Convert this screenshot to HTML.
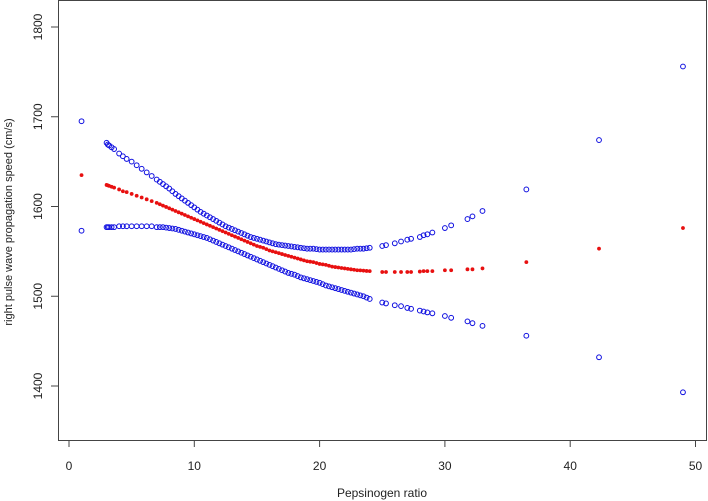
<!DOCTYPE html>
<html><head><meta charset="utf-8"><style>
html,body{margin:0;padding:0;background:#fff;}
svg{display:block;font-family:"Liberation Sans",Arial,sans-serif;}
</style></head><body>
<svg id="chart" width="708" height="501">
<g id="axes"></g><g id="marks"></g>
</svg>
<script>
const xs=[1,3,3.1,3.2,3.4,3.6,4,4.3,4.6,5,5.4,5.8,6.2,6.6,7,7.5,8,8.5,9,9.5,10,10.5,11,11.5,12,12.5,13,13.5,14,14.5,15,15.5,16,16.5,17,17.5,18,18.5,19,19.5,20,20.5,21,21.5,22,22.5,23,23.5,24,25,25.3,26,26.5,27,27.3,28,28.3,28.6,29,30,30.5,31.8,32.2,33,36.5,42.3,49,
7.25,7.75,8.25,8.75,9.25,9.75,10.25,10.75,11.25,11.75,12.25,12.75,13.25,13.75,14.25,14.75,15.25,15.75,16.25,16.75,17.25,17.75,18.25,18.75,19.25,19.75,20.25,20.75,21.25,21.75,22.25,22.75,23.25,23.75];
const upper=[1695,1671,1669,1668,1666,1664,1659,1656,1653,1650,1646,1642,1638,1634,1630,1625,1620,1614,1609,1604,1599,1594,1590,1586,1582,1578,1575,1572,1569,1566,1564,1562,1560,1558,1557,1556,1555,1554,1553,1553,1552,1552,1552,1552,1552,1552,1553,1553,1554,1556,1557,1559,1561,1563,1564,1566,1568,1569,1571,1576,1579,1586,1589,1595,1619,1674,1756,
1627.5,1622.5,1617,1611.5,1606.5,1601.5,1596.5,1592,1588,1584,1580,1576.5,1573.5,1570.5,1567.5,1565,1563,1561,1559,1557.5,1556.5,1555.5,1554.5,1553.5,1553,1552.5,1552,1552,1552,1552,1552,1552.5,1553,1553.5];
const fit=[1635,1624,1623.5,1623,1622,1621,1619,1617,1616,1614,1612,1610,1608,1606,1604,1601,1598,1595,1592,1589,1586,1583,1580,1577,1574,1571,1568,1565,1562,1559,1556,1554,1551,1549,1547,1545,1543,1541,1539,1538,1536,1535,1533,1532,1531,1530,1529,1528.5,1528,1527,1527,1527,1527,1527,1527,1527.5,1528,1528,1528,1529,1529,1530,1530,1531,1538,1553,1576,
1602.5,1599.5,1596.5,1593.5,1590.5,1587.5,1584.5,1581.5,1578.5,1575.5,1572.5,1569.5,1566.5,1563.5,1560.5,1557.5,1555,1552.5,1550,1548,1546,1544,1542,1540,1538.5,1537,1535.5,1534,1532.5,1531.5,1530.5,1529.5,1528.8,1528.2];
const lower=[1573,1577,1577,1577,1577,1577,1578,1578,1578,1578,1578,1578,1578,1578,1577,1577,1576,1575,1573,1571,1569,1567,1565,1562,1559,1556,1553,1550,1547,1544,1541,1538,1535,1532,1529,1526,1524,1521,1519,1517,1515,1512,1510,1508,1506,1504,1502,1500,1497,1493,1492,1490,1489,1487,1486,1484,1483,1482,1481,1478,1476,1472,1470,1467,1456,1432,1393,
1577,1576.5,1575.5,1574,1572,1570,1568,1566,1563.5,1560.5,1557.5,1554.5,1551.5,1548.5,1545.5,1542.5,1539.5,1536.5,1533.5,1530.5,1527.5,1525,1522.5,1520,1518,1516,1513.5,1511,1509,1507,1505,1503,1501,1498.5];
const xTicks=[0,10,20,30,40,50];
const yTicks=[1400,1500,1600,1700,1800];
const NS='http://www.w3.org/2000/svg';
function X(v){return 69+v*12.53;}
function Y(v){return 27+(1800-v)*0.8975;}
function mk(tag,attrs,parent){const e=document.createElementNS(NS,tag);for(const k in attrs)e.setAttribute(k,attrs[k]);parent.appendChild(e);return e;}
const axes=document.getElementById('axes'),marks=document.getElementById('marks');
const box=mk('rect',{x:58.5,y:0.5,width:648,height:440,fill:'none',stroke:'#444','stroke-width':1},axes);


xTicks.forEach(t=>{
  const l=mk('line',{x1:X(t),x2:X(t),y1:440,y2:447,stroke:'#444'},axes);
  
  
  const tx=mk('text',{x:X(t),y:470,'font-size':12,'text-anchor':'middle',fill:'#222'},axes);
  tx.textContent=t;
  
  
});
yTicks.forEach(t=>{
  const l=mk('line',{x1:51,x2:58.5,y1:Y(t),y2:Y(t),stroke:'#444'},axes);
  
  
  const tx=mk('text',{x:0,y:0,'font-size':12,'text-anchor':'middle',fill:'#222',transform:'translate(42,'+Y(t)+') rotate(-90)'},axes);
  tx.textContent=t;
  
  
});
const xt=mk('text',{x:382,y:497,'font-size':12,'text-anchor':'middle',fill:'#222'},axes);
xt.textContent='Pepsinogen ratio';


const yt=mk('text',{x:0,y:0,'font-size':11,'text-anchor':'middle',fill:'#222',transform:'translate(12,222) rotate(-90)'},axes);
yt.textContent='right pulse wave propagation speed (cm/s)';


xs.forEach((x,i)=>{
  const u=mk('circle',{cx:X(x),cy:Y(upper[i]),r:2.4,fill:'none',stroke:'#1010e0','stroke-width':1},marks);
  
  
  const lo=mk('circle',{cx:X(x),cy:Y(lower[i]),r:2.4,fill:'none',stroke:'#1010e0','stroke-width':1},marks);
  
  
});
xs.forEach((x,i)=>{
  const f=mk('circle',{cx:X(x),cy:Y(fit[i]),r:1.9,fill:'#e81010'},marks);
  
  
});
</script>
</body></html>
